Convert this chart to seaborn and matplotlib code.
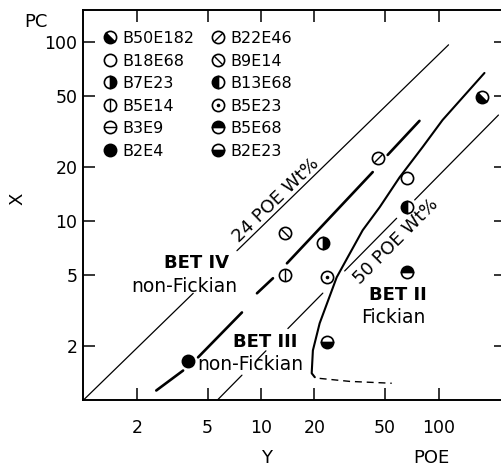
import matplotlib
matplotlib.use("Agg")
import matplotlib.pyplot as plt
import seaborn as sns
import pandas as pd
from matplotlib.markers import MarkerStyle
from matplotlib.transforms import Affine2D
from matplotlib.lines import Line2D
from matplotlib.legend_handler import HandlerTuple
from matplotlib.ticker import NullLocator

# ---------------- data ----------------
samples = ["B50E182", "B22E46", "B18E68", "B9E14", "B7E23", "B13E68",
           "B5E14", "B5E23", "B5E68", "B2E23", "B2E4"]
poe_y = [176.8, 45.4, 66.1, 13.6, 22.3, 66.1, 13.6, 23.5, 66.1, 23.5, 3.89]
pc_x = [49.1, 22.4, 17.3, 8.52, 7.49, 11.9, 4.97, 4.84, 5.16, 2.10, 1.66]

legend_order = ["B50E182", "B18E68", "B7E23", "B5E14", "B3E9", "B2E4",
                "B22E46", "B9E14", "B13E68", "B5E23", "B5E68", "B2E23"]

# composition lines (24 and 50 POE wt%), drawn with gaps as in the original
line24_x = [[1.0, 4.15], [7.32, 113.9]]
line24_y = [[1.0, 3.94], [6.81, 95.9]]
line50_x = [[5.65, 7.81], [9.49, 10.66], [14.17, 22.3], [29.6, 58.1], [73.4, 217.6]]
line50_y = [[0.994, 1.376], [1.674, 1.881], [2.504, 3.948], [5.248, 10.33], [13.07, 38.9]]
# BET IV / BET III boundary (long dashes)
bet34_x = [[2.57, 3.64], [4.42, 7.81], [9.49, 11.68], [14.0, 42.6], [51.7, 78.1]]
bet34_y = [[1.13, 1.46], [1.73, 3.08], [3.94, 4.78], [5.79, 18.7], [23.3, 36.1]]
# BET III / BET II boundary (solid curve + dashed extension)
bet23_x = [181.5, 105.4, 81.4, 60.4, 46.6, 37.4, 30.8, 26.7, 21.4, 19.6, 19.3, 20.1]
bet23_y = [66.8, 36.5, 25.8, 17.5, 11.9, 8.86, 6.26, 4.84, 2.68, 1.89, 1.41, 1.34]
bet23_ext_x = [21.4, 31.6, 54.5]
bet23_ext_y = [1.32, 1.27, 1.24]

tick_vals = [2, 5, 10, 20, 50, 100]
tick_labels = ["2", "5", "10", "20", "50", "100"]

# ---------------- style ----------------
sns.set_style("ticks")
plt.rcParams["font.family"] = ["DejaVu Sans"]
plt.rcParams["text.color"] = "black"
plt.rcParams["axes.labelcolor"] = "black"
plt.rcParams["xtick.color"] = "black"
plt.rcParams["ytick.color"] = "black"

W, H = 502, 467
fig = plt.figure(figsize=(W / 100, H / 100), dpi=100)
ax = fig.add_axes([83.5 / W, (H - 400) / H, (506 - 83.5) / W, (400 - 10) / H])
ax.set_xscale("log")
ax.set_yscale("log")
ax.set_xlim(1, 240)
ax.set_ylim(1, 150)

K = "black"

def seg_plot(xs, ys, **kw):
    df = pd.DataFrame({"x": xs, "y": ys})
    sns.lineplot(data=df, x="x", y="y", ax=ax, sort=False, estimator=None,
                 color=K, legend=False, **kw)

for xs, ys in zip(line24_x, line24_y):
    seg_plot(xs, ys, linewidth=0.9)
for xs, ys in zip(line50_x, line50_y):
    seg_plot(xs, ys, linewidth=0.9)
for xs, ys in zip(bet34_x, bet34_y):
    seg_plot(xs, ys, linewidth=1.9)
seg_plot(bet23_x, bet23_y, linewidth=1.5)
seg_plot(bet23_ext_x, bet23_ext_y, linewidth=1.0, dashes=(5, 3.5))

# ---------------- markers ----------------
MS = 8.8
MEW = 1.2

def circle_fill(fill, rot=0):
    return MarkerStyle("o", fillstyle=fill, transform=Affine2D().rotate_deg(rot))

def bar_marker(rot):
    return MarkerStyle("|", transform=Affine2D().rotate_deg(rot))

def marker_layers(name):
    base = dict(markersize=MS, markeredgecolor=K, markeredgewidth=MEW, linestyle="none")
    white = dict(base, marker="o", markerfacecolor="white")
    if name == "B50E182":
        return [dict(base, marker=circle_fill("left", 45), markerfacecolor=K, markerfacecoloralt="white")]
    if name == "B18E68":
        return [white]
    if name == "B7E23":
        return [dict(base, marker=circle_fill("right"), markerfacecolor=K, markerfacecoloralt="white")]
    if name == "B13E68":
        return [dict(base, marker=circle_fill("left"), markerfacecolor=K, markerfacecoloralt="white")]
    if name == "B5E68":
        return [dict(base, marker=circle_fill("top"), markerfacecolor=K, markerfacecoloralt="white")]
    if name == "B2E23":
        return [dict(base, marker=circle_fill("bottom"), markerfacecolor=K, markerfacecoloralt="white")]
    if name == "B2E4":
        return [dict(base, marker="o", markerfacecolor=K)]
    if name == "B5E14":
        return [white, dict(base, marker=bar_marker(0), markeredgewidth=1.0)]
    if name == "B3E9":
        return [white, dict(base, marker=bar_marker(90), markeredgewidth=1.0)]
    if name == "B22E46":
        return [white, dict(base, marker=bar_marker(-45), markeredgewidth=1.0)]
    if name == "B9E14":
        return [white, dict(base, marker=bar_marker(45), markeredgewidth=1.0)]
    if name == "B5E23":
        return [white, dict(base, marker="o", markersize=2.6, markerfacecolor=K, markeredgewidth=0)]
    return [white]

for name, xv, yv in zip(samples, poe_y, pc_x):
    for i, layer in enumerate(marker_layers(name)):
        ax.plot([xv], [yv], zorder=5 + i, **layer)

# ---------------- legend ----------------
handles = []
for name in legend_order:
    layers = [Line2D([], [], **layer) for layer in marker_layers(name)]
    handles.append(tuple(layers))
ax.legend(handles, legend_order, handler_map={tuple: HandlerTuple(ndivide=1, pad=0)},
          loc="upper left", bbox_to_anchor=(102 / W, 1 - 31 / H), bbox_transform=fig.transFigure,
          ncol=2, frameon=False, fontsize=11.5, handlelength=1.0, handletextpad=0.25,
          columnspacing=1.0, labelspacing=0.47, borderpad=0, borderaxespad=0, numpoints=1)

# ---------------- region labels ----------------
ax.text(4.31, 5.83, "BET IV", ha="center", va="center", fontsize=13, fontweight="bold")
ax.text(3.71, 4.31, "non-Fickian", ha="center", va="center", fontsize=13.5)
ax.text(10.6, 2.12, "BET III", ha="center", va="center", fontsize=13, fontweight="bold")
ax.text(8.67, 1.58, "non-Fickian", ha="center", va="center", fontsize=13.5)
ax.text(58.9, 3.84, "BET II", ha="center", va="center", fontsize=13, fontweight="bold")
ax.text(55.5, 2.89, "Fickian", ha="center", va="center", fontsize=13.5)
ax.text(12.2, 13.0, "24 POE Wt%", ha="center", va="center", fontsize=13, rotation=44.1,
        rotation_mode="anchor")
ax.text(57.7, 7.64, "50 POE Wt%", ha="center", va="center", fontsize=13, rotation=45.3,
        rotation_mode="anchor")

# ---------------- axes / ticks ----------------
ax.set_xticks(tick_vals)
ax.set_xticklabels(tick_labels)
ax.set_yticks(tick_vals)
ax.set_yticklabels(tick_labels)
ax.xaxis.set_minor_locator(NullLocator())
ax.yaxis.set_minor_locator(NullLocator())
ax.tick_params(which="major", direction="in", length=8.5, width=1.1, top=True, right=True,
               labelsize=12.5, colors=K, labelcolor=K)
ax.tick_params(axis="x", pad=14)
ax.tick_params(axis="y", pad=4.3)
for sp in ax.spines.values():
    sp.set_linewidth(1.4)
    sp.set_color(K)
ax.set_xlabel("")
ax.set_ylabel("")

fig.text(36 / W, 1 - 22 / H, "PC", ha="center", va="center", fontsize=13)
fig.text(17 / W, 1 - 199 / H, "X", ha="center", va="center", fontsize=13, rotation=90)
fig.text(267 / W, 1 - 458 / H, "Y", ha="center", va="center", fontsize=13)
fig.text(431 / W, 1 - 458 / H, "POE", ha="center", va="center", fontsize=13)

fig.savefig("out.png", dpi=100)
